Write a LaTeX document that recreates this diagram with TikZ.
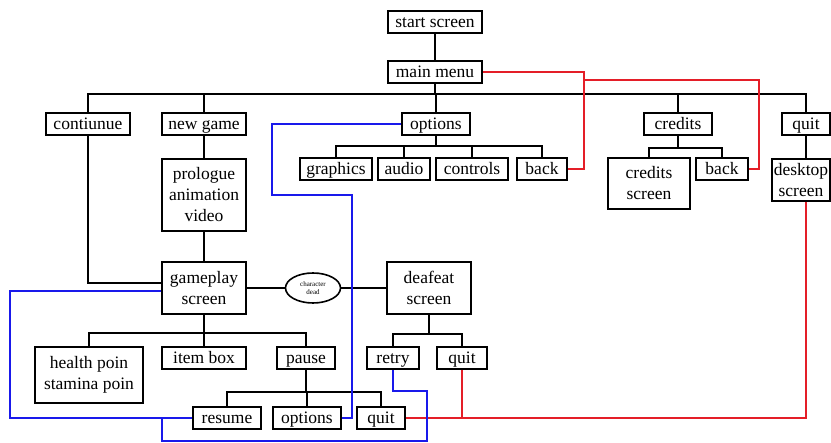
\documentclass[tikz,border=0pt]{standalone}
\usepackage{fontspec}
\setmainfont{Liberation Serif}
\usetikzlibrary{shapes.geometric,calc}
\definecolor{redline}{RGB}{228,30,40}
\definecolor{blueline}{RGB}{25,25,235}
\begin{document}
\begin{tikzpicture}[x=1pt,y=-1pt,
        mb/.style={draw, line width=1.8pt, inner xsep=5pt, inner ysep=1pt, minimum height=22pt,
                   align=center, font=\fontsize{17.5}{21}\selectfont},
        b/.style ={mb, text height=13.5pt, text depth=2.5pt},
        wb/.style={b, minimum width=84pt},
        el/.style={draw, ellipse, line width=1.6pt, minimum width=55pt, minimum height=30pt,
                   inner sep=0pt, align=center, font=\fontsize{7}{8.5}\selectfont},
        ln/.style={line width=1.8pt},
        rl/.style={line width=2pt, redline},
        bl/.style={line width=2pt, blueline}]
        \useasboundingbox (0,0) rectangle (831,443);
        \node[b, minimum width=94pt] (ss) at (435,22){start screen};
        \node[b, minimum width=94pt] (mm) at (435,72){main menu};
        \node[wb] (cont) at (88,124){contiunue};
        \node[wb] (newg) at (204,124){new game};
        \node[b, minimum width=68pt] (opt)  at (436,124){options};
        \node[b, minimum width=68pt] (cred) at (678,124){credits};
        \node[b, minimum width=48pt] (quit) at (806,124){quit};
        \foreach \n/\l/\x/\w in {gra/graphics/336/72, aud/audio/404/52, con/controls/472/72, oback/back/542/50}
            {\node[b, minimum width=\w pt] (\n) at (\x,169){\l};}
        \node[mb, minimum width=82pt, minimum height=51pt] (cscr) at (649,183.5){credits\\screen};
        \node[b, minimum width=52pt] (cback) at (722,169){back};
        \node[mb, inner xsep=2pt, minimum width=58pt, minimum height=42pt] (desk) at (801,180){desktop\\screen};
        \node[mb, minimum width=84pt, minimum height=72pt] (prol) at (204,195){prologue\\animation\\video};
        \node[mb, minimum width=84pt, minimum height=52pt] (game) at (204,288){gameplay\\screen};
        \node[el] (dead) at (313,288){character\\dead};
        \node[mb, minimum width=84pt, minimum height=52pt] (def)  at (429,288){deafeat\\screen};
        \node[mb, minimum width=108pt, minimum height=56pt] (hp) at (89,375){health poin\\stamina poin};
        \node[wb] (ibox) at (204,358){item box};
        \foreach \n/\l/\x/\w in {pause/pause/306/58, retry/retry/393/52, dquit/quit/462/50}
            {\node[b, minimum width=\w pt] (\n) at (\x,358){\l};}
        \foreach \n/\l/\x/\w in {res/resume/227/68, popt/options/307/68, pquit/quit/381/48}
            {\node[b, minimum width=\w pt] (\n) at (\x,418){\l};}
% Baum
        \draw[ln] (ss) -- (mm);
        \foreach \c in {cont,newg,opt,cred,quit} {\draw[ln] (mm.south) -- ++(0,10) -| (\c.north);}
        \foreach \c in {gra,aud,con,oback}       {\draw[ln] (opt.south) -- ++(0,10) -| (\c.north);}
        \foreach \c in {cscr,cback}              {\draw[ln] (cred.south) -- ++(0,12) -| (\c.north);}
        \draw[ln] (quit) -- (quit |- desk.north);
        \draw[ln] (newg) -- (prol);
        \draw[ln] (prol) -- (game);
        \draw[ln] (cont.south) |- ($(game.west)+(0,-5)$);
        \draw[ln] (game) -- (dead) -- (def);
        \foreach \c in {hp,ibox,pause}  {\draw[ln] (game.south) -- ++(0,18) -| (\c.north);}
        \foreach \c in {res,popt,pquit} {\draw[ln] (pause.south) -- ++(0,22) -| (\c.north);}
        \foreach \c in {retry,dquit}    {\draw[ln] (def.south) -- ++(0,19) -| (\c.north);}
% Ruecksprung (rot = zurueck/beenden, blau = weiter/optionen)
        \coordinate (rj) at (583,80);
        \draw[rl] (oback.east) -- ++(16,0) |- (mm.east);
        \draw[rl] (cback.east) -- ++(10,0) |- (rj);
        \draw[rl] (pquit.east) -| (quit |- desk.south);
        \draw[rl] (dquit.south) -- (dquit.south |- pquit.east);
        \coordinate (bj) at (352,195);
        \coordinate (rb) at (427,441);
        \coordinate (gj) at (162,418);
        \draw[bl] ($(game.west)+(0,3)$) -- ++(-151,0) |- (res.west);
        \draw[bl] (opt.west) -- ++(-129,0) |- (bj) |- (popt.east);
        \draw[bl] (retry.south) -- ++(0,21) -| (rb) -| (gj);
    \end{tikzpicture}
\end{document}
